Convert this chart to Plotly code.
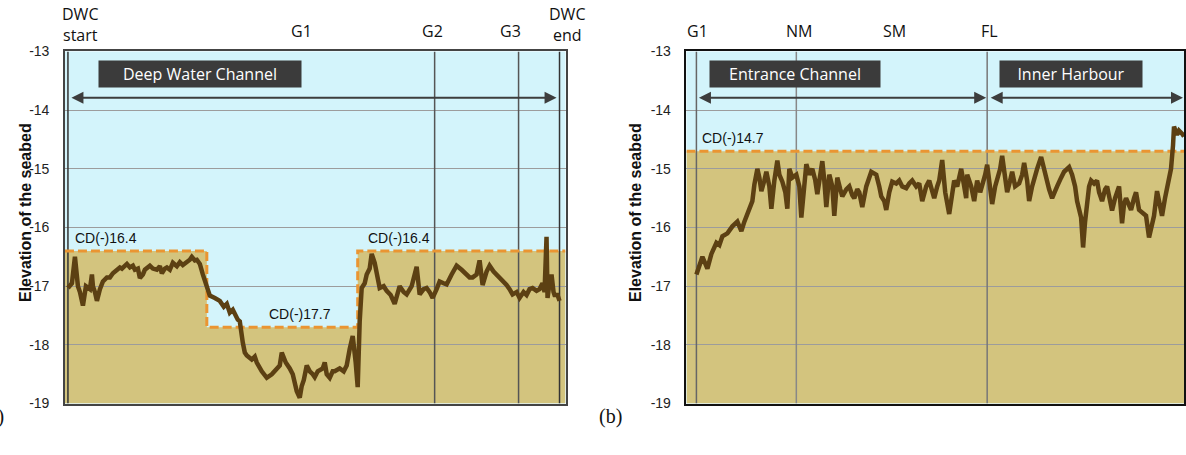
import plotly.graph_objects as go

# ---------------- data ----------------
# (a) Deep Water Channel profile: chainage (arbitrary units) vs seabed elevation (m CD)
dwc_x = [3, 7, 10, 12, 13, 15, 18, 21, 25, 27, 28, 30, 32, 35, 38, 42, 45, 48, 52, 55, 57, 60, 62,
         65, 68, 70, 73, 75, 78, 80, 85, 88, 92, 95, 97, 100, 102, 105, 108, 112, 115, 118, 122,
         125, 127, 130, 132, 135, 138, 142, 145, 150, 155, 159, 162, 165, 168, 173, 175, 178, 180,
         182, 185, 187, 190, 192, 197, 202, 207, 212, 215, 217, 221, 225, 228, 232, 235, 237, 239,
         242, 245, 248, 250, 253, 258, 260, 262, 265, 268, 270, 275, 279, 282, 285, 288, 291, 293,
         295, 297, 300, 302, 305, 307, 310, 312, 315, 319, 322, 326, 330, 335, 339, 342, 347, 352,
         355, 359, 362, 365, 368, 372, 375, 379, 382, 387, 392, 397, 402, 405, 408, 412, 415, 418,
         422, 425, 429, 432, 437, 442, 445, 448, 452, 455, 459, 462, 465, 468, 472, 475, 478, 480,
         482, 483, 485, 487, 489, 490, 493, 495]
dwc_y = [-17.03, -16.95, -16.5, -16.85, -17.0, -17.1, -17.33, -17.0, -17.05, -16.8, -17.0, -17.1,
         -17.25, -17.05, -16.92, -16.85, -16.85, -16.78, -16.73, -16.68, -16.7, -16.64, -16.62,
         -16.68, -16.65, -16.72, -16.7, -16.86, -16.8, -16.72, -16.65, -16.7, -16.72, -16.66,
         -16.78, -16.7, -16.68, -16.72, -16.6, -16.66, -16.59, -16.64, -16.6, -16.55, -16.5,
         -16.56, -16.55, -16.62, -16.8, -17.0, -17.16, -17.2, -17.25, -17.35, -17.3, -17.45,
         -17.4, -17.57, -17.6, -17.96, -18.13, -18.18, -18.22, -18.25, -18.2, -18.3, -18.45,
         -18.56, -18.5, -18.4, -18.35, -18.13, -18.3, -18.4, -18.5, -18.79, -18.9, -18.7, -18.6,
         -18.35, -18.45, -18.5, -18.55, -18.45, -18.4, -18.3, -18.5, -18.56, -18.45, -18.45,
         -18.4, -18.45, -18.35, -18.07, -17.85, -18.3, -18.72, -17.6, -17.03, -16.95, -16.8,
         -16.7, -16.45, -16.6, -16.75, -17.03, -17.0, -17.08, -17.15, -17.3, -17.0, -17.1,
         -17.14, -17.0, -16.67, -17.14, -17.05, -17.03, -17.1, -17.2, -17.05, -16.92, -16.95,
         -16.97, -16.8, -16.65, -16.72, -16.8, -16.85, -16.85, -16.8, -16.56, -16.98, -16.75,
         -16.65, -16.75, -16.8, -16.9, -16.98, -17.05, -17.14, -17.1, -17.2, -17.1, -17.15,
         -17.05, -17.03, -17.08, -17.05, -16.95, -17.1, -16.16, -17.2, -16.95, -16.8, -17.1,
         -17.15, -17.15, -17.25]

# (a) chart datum (design depth) steps
dwc_cd_x = [0, 142, 142, 293, 293, 501]
dwc_cd_y = [-16.4, -16.4, -17.7, -17.7, -16.4, -16.4]
dwc_cd_labels = ["CD(-)16.4", "CD(-)17.7", "CD(-)16.4"]
dwc_cd_label_x = [8, 202, 301]
dwc_cd_label_y = [-16.4, -17.7, -16.4]

# (a) landmarks
dwc_marks = ["DWC<br>start", "G1", "G2", "G3", "DWC<br>end"]
dwc_mark_x = [3, 237, 370, 454, 495]
dwc_mark_line = [True, False, True, True, True]

# (b) Entrance Channel / Inner Harbour profile
eh_x = [10, 13, 16, 19, 21, 25, 30, 33, 36, 41, 46, 51, 55, 58, 61, 66, 68, 71, 73, 75, 78, 80,
        83, 85, 88, 91, 93, 96, 99, 101, 103, 106, 110, 113, 115, 118, 120, 123, 126, 129, 131,
        134, 136, 138, 140, 143, 146, 148, 151, 154, 156, 160, 163, 166, 168, 171, 173, 176, 180,
        185, 190, 193, 195, 198, 200, 203, 206, 210, 213, 216, 220, 223, 226, 230, 233, 236, 240,
        243, 246, 248, 251, 253, 256, 259, 263, 266, 268, 271, 275, 278, 280, 281, 285, 288, 291,
        294, 296, 299, 301, 303, 306, 309, 311, 314, 316, 319, 321, 324, 326, 329, 333, 336, 338,
        341, 343, 346, 348, 351, 355, 358, 360, 363, 366, 369, 371, 375, 378, 383, 386, 389, 391,
        395, 397, 399, 400, 403, 405, 408, 411, 413, 416, 419, 421, 424, 426, 429, 433, 436, 438,
        440, 443, 445, 448, 450, 453, 457, 460, 463, 466, 468, 471, 474, 476, 479, 481, 483, 485,
        487, 488, 491, 493, 496, 498]
eh_y = [-16.8, -16.65, -16.5, -16.62, -16.7, -16.45, -16.26, -16.3, -16.15, -16.1, -15.98, -15.9,
        -16.06, -15.9, -15.77, -15.55, -15.27, -15.0, -15.15, -15.38, -15.2, -15.05, -15.3,
        -15.68, -15.2, -14.86, -15.1, -15.22, -15.4, -15.68, -15.0, -15.15, -15.1, -15.3, -15.83,
        -15.2, -14.92, -15.1, -15.0, -15.2, -15.43, -15.1, -14.87, -15.2, -15.65, -15.1, -15.3,
        -15.8, -15.15, -15.35, -15.47, -15.35, -15.3, -15.45, -15.5, -15.35, -15.4, -15.65, -15.3,
        -15.05, -15.1, -15.3, -15.47, -15.55, -15.7, -15.4, -15.22, -15.25, -15.2, -15.3, -15.33,
        -15.25, -15.2, -15.3, -15.25, -15.55, -15.3, -15.2, -15.4, -15.5, -15.3, -15.2, -14.85,
        -15.4, -15.77, -15.4, -15.2, -15.3, -15.0, -15.3, -15.5, -15.1, -15.3, -15.55, -15.2,
        -15.4, -15.3, -15.1, -14.93, -15.2, -15.6, -15.3, -15.2, -15.0, -14.78, -15.1, -15.4,
        -15.2, -15.05, -15.3, -15.25, -15.1, -14.9, -15.2, -15.55, -15.3, -15.15, -15.0, -14.8,
        -15.0, -15.2, -15.35, -15.5, -15.4, -15.3, -15.15, -15.05, -14.97, -15.1, -15.3, -15.55,
        -15.83, -16.34, -15.9, -15.7, -15.3, -15.2, -15.25, -15.2, -15.4, -15.55, -15.35, -15.3,
        -15.5, -15.71, -15.5, -15.3, -15.93, -15.6, -15.5, -15.6, -15.7, -15.5, -15.4, -15.7,
        -15.75, -15.8, -16.17, -15.9, -15.8, -15.38, -15.6, -15.8, -15.5, -15.3, -15.1, -15.0,
        -14.6, -14.28, -14.42, -14.35, -14.4, -14.45]

eh_cd_x = [0, 498]
eh_cd_y = [-14.7, -14.7]
eh_cd_labels = ["CD(-)14.7"]
eh_cd_label_x = [14]
eh_cd_label_y = [-14.7]

eh_marks = ["G1", "NM", "SM", "FL"]
eh_mark_x = [10, 110, 208, 301]
eh_mark_line = [True, True, False, True]

y_ticks = [-13, -14, -15, -16, -17, -18, -19]

# zone boxes: name, arrow start, arrow end, box centre
dwc_zones = [("Deep Water Channel", 5, 492, 135)]
eh_zones = [("Entrance Channel", 11, 300, 109), ("Inner Harbour", 303, 497, 385)]

# ---------------- style ----------------
CYAN = "#d3f4fb"
TAN = "#d3c47e"
BROWN = "#5c4013"
ORANGE = "#ea9532"
GRID = "#9c9c9c"
W, H = 1186, 455
LABEL_FONT = "Open Sans"
BOX_W = {"Deep Water Channel": 194, "Entrance Channel": 162, "Inner Harbour": 134}

fig = go.Figure()


def fill_path(xs, ys, ybot=-19):
    p = f"M {xs[0]},{ybot}"
    for x, y in zip(xs, ys):
        p += f" L {x},{y}"
    p += f" L {xs[-1]},{ybot} Z"
    return p


shapes = []
annotations = []


def build_panel(xa, ya, prof_x, prof_y, cd_x, cd_y, cd_labels, cd_lx, cd_ly,
                marks, mark_x, mark_line, zones, line_colors, mark_shift):
    shapes.append(dict(type="path", path=fill_path(cd_x, cd_y), xref=xa, yref=ya,
                       fillcolor=TAN, line=dict(width=0), layer="below"))
    for mx, show, col in zip(mark_x, mark_line, line_colors):
        if show:
            shapes.append(dict(type="line", x0=mx, x1=mx, y0=-19, y1=-13, xref=xa, yref=ya,
                               line=dict(color=col, width=1.5), layer="between"))
    fig.add_trace(go.Scatter(x=cd_x, y=cd_y, mode="lines", xaxis=xa, yaxis=ya,
                             line=dict(color=ORANGE, width=3, dash="9px,4px"),
                             hoverinfo="skip", showlegend=False))
    fig.add_trace(go.Scatter(x=prof_x, y=prof_y, mode="lines", xaxis=xa, yaxis=ya,
                             line=dict(color=BROWN, width=4.5), showlegend=False))
    for t, lx, ly in zip(cd_labels, cd_lx, cd_ly):
        annotations.append(dict(text=t, x=lx, y=ly, xref=xa, yref=ya, xanchor="left",
                                yanchor="bottom", yshift=3, showarrow=False,
                                font=dict(family="Arial", size=14, color="#111")))
    for t, mx, sh in zip(marks, mark_x, mark_shift):
        two = "<br>" in t
        annotations.append(dict(text=t, x=mx, y=1.0, xref=xa, yref=ya + " domain",
                                xanchor="center", yanchor="bottom", xshift=sh,
                                yshift=3 if two else 7, showarrow=False,
                                font=dict(family=LABEL_FONT, size=16, color="#111")))
    for name, z0, z1, zc in zones:
        annotations.append(dict(text=name, x=zc, y=-13.39, xref=xa, yref=ya,
                                showarrow=False, bgcolor="#3b3b3b", borderpad=4,
                                width=BOX_W[name], height=18,
                                font=dict(family=LABEL_FONT, size=16, color="white")))
        annotations.append(dict(text="", x=z1, y=-13.79, ax=z0, ay=-13.79, xref=xa, yref=ya,
                                axref=xa, ayref=ya, showarrow=True, arrowside="end+start",
                                arrowhead=2, arrowsize=1.2, arrowwidth=2, arrowcolor="#3d3d3d"))


build_panel("x", "y", dwc_x, dwc_y, dwc_cd_x, dwc_cd_y, dwc_cd_labels, dwc_cd_label_x,
            dwc_cd_label_y, dwc_marks, dwc_mark_x, dwc_mark_line, dwc_zones,
            ["#333", "#555", "#555", "#555", "#333"], [12, 0, -2, -8, 7])
build_panel("x2", "y2", eh_x, eh_y, eh_cd_x, eh_cd_y, eh_cd_labels, eh_cd_label_x,
            eh_cd_label_y, eh_marks, eh_mark_x, eh_mark_line, eh_zones,
            ["#666", "#888", "#888", "#777"], [1, 3, 0, 2])

annotations.append(dict(text="<b>Elevation of the seabed</b>", x=15 / W, y=1 - 212 / H,
                        xref="paper", yref="paper", textangle=-90, showarrow=False,
                        font=dict(family="Arial", size=16, color="#111")))
annotations.append(dict(text="<b>Elevation of the seabed</b>", x=636 / W, y=1 - 212 / H,
                        xref="paper", yref="paper", textangle=-90, showarrow=False,
                        font=dict(family="Arial", size=16, color="#111")))
annotations.append(dict(text="(a)", x=6 / W, y=1 - 437 / H, xref="paper", yref="paper",
                        xanchor="right", showarrow=False,
                        font=dict(family="Liberation Serif", size=20, color="#111")))
annotations.append(dict(text="(b)", x=598 / W, y=1 - 437 / H, xref="paper", yref="paper",
                        xanchor="left", showarrow=False,
                        font=dict(family="Liberation Serif", size=20, color="#111")))

ydom = [1 - 410 / H, 1 - 45 / H]
yax = dict(range=[-19, -13], domain=ydom, tickvals=y_ticks, ticktext=[str(v) for v in y_ticks],
           showgrid=True, gridcolor=GRID, gridwidth=1, zeroline=False, ticks="outside",
           ticklen=11, tickcolor="rgba(0,0,0,0)",
           tickfont=dict(family="Arial", size=14, color="#222"),
           showline=True, mirror=True)

fig.update_layout(
    width=W, height=H, margin=dict(l=0, r=0, t=0, b=0),
    paper_bgcolor="white", plot_bgcolor=CYAN, showlegend=False,
    xaxis=dict(domain=[65 / W, 566 / W], range=[0, 501], showticklabels=False, showgrid=False,
               zeroline=False, showline=True, mirror=True, linecolor="#444", linewidth=1.5,
               ticks=""),
    yaxis=dict(**yax, linecolor="#444", linewidth=1.5),
    xaxis2=dict(domain=[687 / W, 1185 / W], range=[0, 498], showticklabels=False, showgrid=False,
                zeroline=False, showline=True, mirror=True, linecolor="#111", linewidth=1.5,
                ticks="", anchor="y2"),
    yaxis2=dict(**yax, anchor="x2", linecolor="#111", linewidth=1.5),
    shapes=shapes, annotations=annotations,
)

fig.write_html("out.html")
